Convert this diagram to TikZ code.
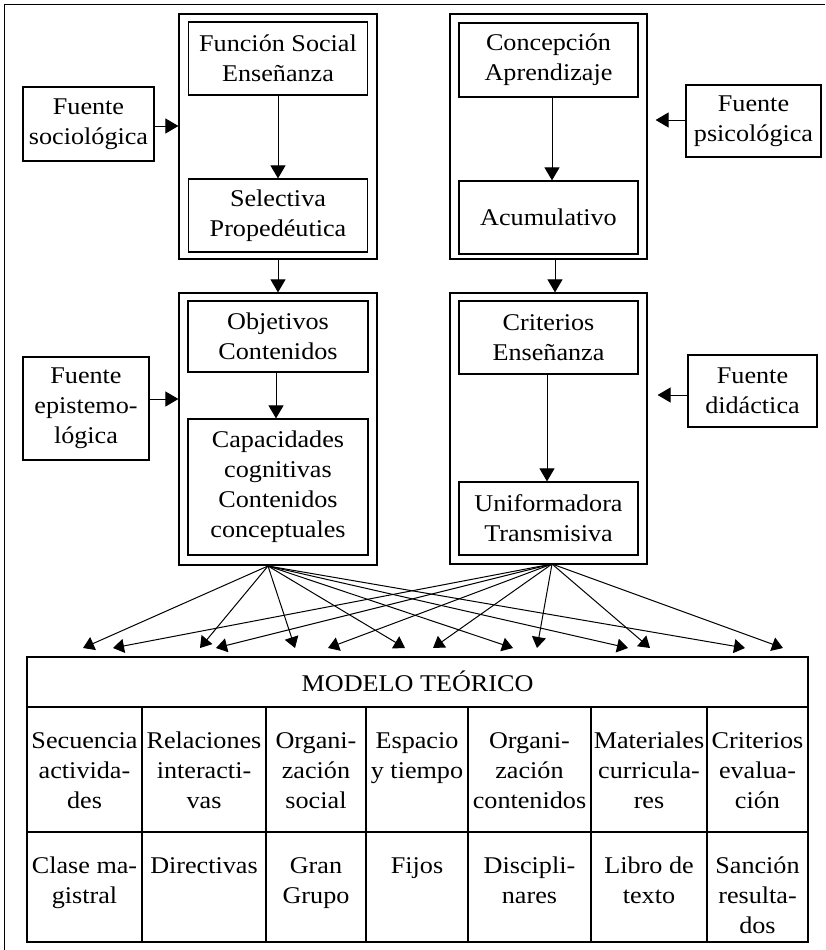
\documentclass[tikz,border=0pt]{standalone}
\usepackage{fontspec}
\setmainfont{Liberation Serif}[FakeStretch=1.09]
\usetikzlibrary{arrows.meta}
\newcommand\myfs{\fontsize{24pt}{30pt}\selectfont}
\tikzset{
  bx/.style={draw, line width=1.2pt, align=center, inner sep=0pt, font=\myfs},
  obx/.style={draw, line width=1.2pt, inner sep=0pt, minimum width=198pt},
  arr/.style={line width=1pt, -{Triangle[length=13pt,width=15pt]}},
  fan/.style={line width=1pt, -{Triangle[length=11pt,width=14pt]}},
  cell/.style={align=center, inner sep=0pt, font=\myfs, anchor=north},
  tline/.style={line width=1.2pt}
}
\begin{document}
\begin{tikzpicture}[x=1pt,y=-1pt]
\useasboundingbox (0,0) rectangle (825,950);
\fill[white] (0,0) rectangle (825,950);
% frame (left and top edges)
\draw[line width=0.8pt] (4,950) -- (4,4) -- (825,4);

% outer column boxes
\node[obx, minimum height=245pt] (oA) at (278,136.5) {};
\node[obx, minimum height=272pt] (oB) at (278,429) {};
\node[obx, minimum width=197pt, minimum height=245pt] (oC) at (548.5,136.5) {};
\node[obx, minimum width=197pt, minimum height=271pt] (oD) at (548.5,428.5) {};

% inner boxes left
\node[bx, minimum width=179pt, minimum height=73pt] (fse) at (278,58.5) {Función Social\\Enseñanza};
\node[bx, minimum width=179pt, minimum height=73pt] (sel) at (278,215.5) {Selectiva\\Propedéutica};
\node[bx, minimum width=180pt, minimum height=71pt] (obj) at (278,336.5) {Objetivos\\Contenidos};
\node[bx, minimum width=180pt, minimum height=136pt] (cap) at (278,487) {Capacidades\\cognitivas\\Contenidos\\conceptuales};

% inner boxes right
\node[bx, minimum width=179pt, minimum height=74pt] (con) at (548.5,60) {Concepción\\Aprendizaje};
\node[bx, minimum width=179pt, minimum height=73pt] (acu) at (548.5,217.5) {Acumulativo};
\node[bx, minimum width=179pt, minimum height=73pt] (cri) at (548.5,337.5) {Criterios\\Enseñanza};
\node[bx, minimum width=179pt, minimum height=73pt] (uni) at (548.5,518.5) {Uniformadora\\Transmisiva};

% sources
\node[bx, minimum width=131pt, minimum height=74pt] (fsoc) at (88.5,124) {Fuente\\sociológica};
\node[bx, minimum width=126pt, minimum height=103pt] (fepi) at (86,408.5) {Fuente\\epistemo-\\lógica};
\node[bx, minimum width=135pt, minimum height=72pt] (fpsi) at (753.5,121) {Fuente\\psicológica};
\node[bx, minimum width=129pt, minimum height=72pt] (fdid) at (752.5,391) {Fuente\\didáctica};

% vertical arrows
\draw[arr] (fse.south) -- (sel.north);
\draw[arr] ([xshift=-2pt]obj.south) -- ([xshift=-2pt]cap.north);
\draw[arr] ([xshift=3.5pt]con.south) -- ([xshift=3.5pt]acu.north);
\draw[arr] ([xshift=-1.5pt]cri.south) -- ([xshift=-1.5pt]uni.north);
\draw[arr] (oA.south) -- (oB.north);
\draw[arr] ([xshift=6.5pt]oC.south) -- ([xshift=6.5pt]oD.north);

% horizontal arrows from sources
\draw[arr] ([yshift=-2pt]fsoc.east) -- ([yshift=-2pt]fsoc.east -| oA.west);
\draw[arr] ([yshift=9.5pt]fepi.east) -- ([yshift=9.5pt]fepi.east -| oB.west);
\draw[arr, shorten >=8pt] ([yshift=1pt]fpsi.west) -- ([yshift=1pt]fpsi.west -| oC.east);
\draw[arr, shorten >=10pt] ([yshift=-4pt]fdid.west) -- ([yshift=-4pt]fdid.west -| oD.east);

% fan
\coordinate (sL) at (268,566);
\coordinate (sR) at (552,564);
\foreach \x [count=\i] in {83,200,295,405,513,628,745} {
  \coordinate (tL\i) at (\x,648);
  \draw[fan] (sL) -- (tL\i);
}
\foreach \x [count=\i] in {113,216,328,433,537,650,783} {
  \coordinate (tR\i) at (\x,648);
  \draw[fan] (sR) -- (tR\i);
}

% table
\draw[tline] (27,657) rectangle (808,942);
\draw[tline] (27,707) -- (808,707);
\draw[tline] (27,832) -- (808,832);
\foreach \x in {142,266,366,468,591,707} \draw[tline] (\x,707) -- (\x,942);
\node[font=\myfs, inner sep=0pt, anchor=base] (mt) at (417.5,691) {MODELO TEÓRICO};

% row 2
\node[cell] (c1) at (84.5,727) {\strut Secuencia\\activida-\\des};
\node[cell] (c2) at (204,727) {\strut Relaciones\\interacti-\\vas};
\node[cell] (c3) at (316,727) {\strut Organi-\\zación\\social};
\node[cell] (c4) at (417,727) {\strut Espacio\\y tiempo};
\node[cell] (c5) at (529.5,727) {\strut Organi-\\zación\\contenidos};
\node[cell] (c6) at (649,727) {\strut Materiales\\curricula-\\res};
\node[cell] (c7) at (757.5,727) {\strut Criterios\\evalua-\\ción};

% row 3
\node[cell] (d1) at (84.5,852) {\strut Clase ma-\\gistral};
\node[cell] (d2) at (204,852) {\strut Directivas};
\node[cell] (d3) at (316,852) {\strut Gran\\Grupo};
\node[cell] (d4) at (417,852) {\strut Fijos};
\node[cell] (d5) at (529.5,852) {\strut Discipli-\\nares};
\node[cell] (d6) at (649,852) {\strut Libro de\\texto};
\node[cell] (d7) at (757.5,852) {\strut Sanción\\resulta-\\dos};
\end{tikzpicture}
\end{document}
